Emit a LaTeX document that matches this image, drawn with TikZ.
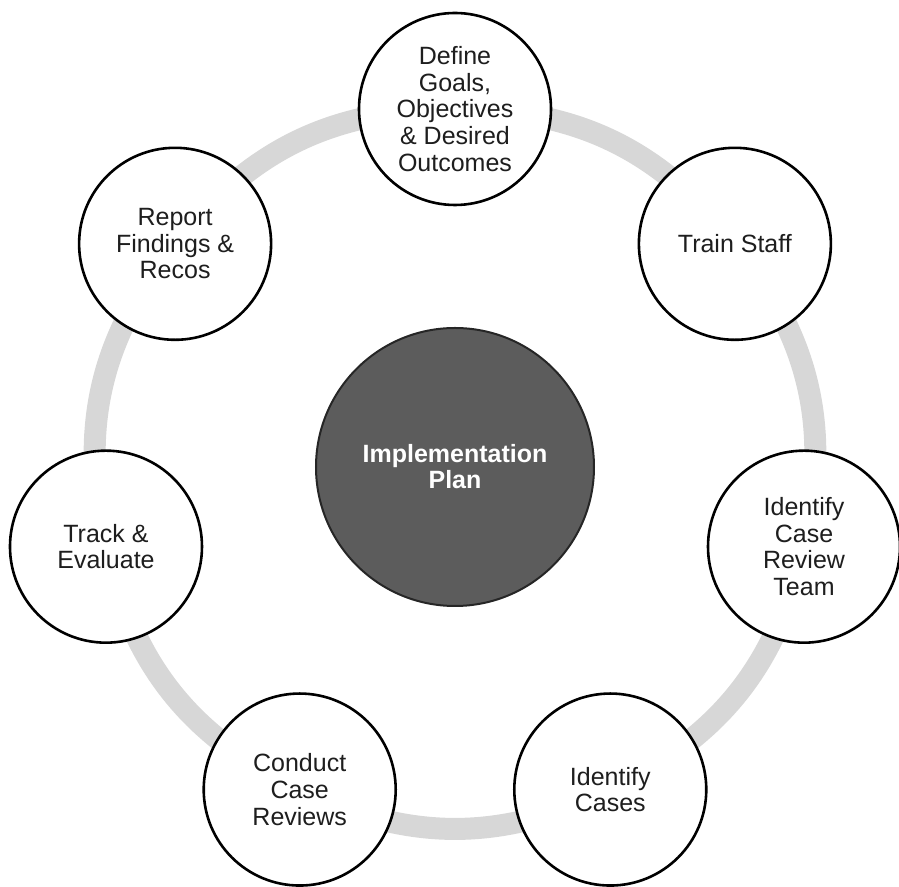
\documentclass[tikz,border=0pt]{standalone}
\usepackage{fontspec}
\setmainfont{Liberation Sans}
\usetikzlibrary{backgrounds}

\definecolor{planfill}{RGB}{92,92,92}
\definecolor{ringgray}{RGB}{215,215,215}
\definecolor{textdark}{RGB}{30,30,30}

\tikzset{
        stage/.style={circle, draw=black, line width=1.3pt, fill=white,
                minimum size=96pt, inner sep=0pt, align=center, text=textdark,
                font=\fontsize{12.5}{13.3}\selectfont},
        hub/.style={circle, draw=black!85, line width=1pt, fill=planfill,
                minimum size=139pt, inner sep=0pt, align=center, text=white,
                font=\bfseries\fontsize{12.5}{13}\selectfont},
        ring/.style={line width=11pt, draw=ringgray}
}

\begin{document}
\begin{tikzpicture}[x=0.5pt, y=0.5pt]
        \useasboundingbox (-455, -420) rectangle (444, 467);
        \node[hub] (plan) at (0, 0) {Implementation\\Plan};
        \node[stage] (goals) at (90:358) {Define\\Goals,\\Objectives\\\& Desired\\Outcomes};
        \node[stage] (train) at (38.57:358) {Train Staff};
        \node[stage] (team) at (-12.86:358) {Identify\\Case\\Review\\Team};
        \node[stage] (cases) at (-64.29:358) {Identify\\Cases};
        \node[stage] (reviews) at (-115.71:358) {Conduct\\Case\\Reviews};
        \node[stage] (track) at (-167.14:358) {Track \&\\Evaluate};
        \node[stage] (report) at (141.43:358) {Report\\Findings \&\\Recos};
        % grey loop behind the stages
        \begin{pgfonlayer}{background}
                \foreach \from/\to in {goals/train, train/team, team/cases, cases/reviews,
                                reviews/track, track/report, report/goals}
                        \draw[ring] (\from.center) to[bend left=25.7] (\to.center);
        \end{pgfonlayer}
\end{tikzpicture}
\end{document}
